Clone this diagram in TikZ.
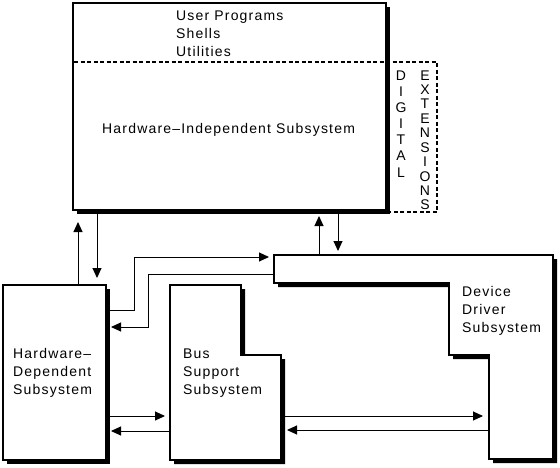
\documentclass[tikz,border=0pt]{standalone}
\usepackage{fontspec}
\usetikzlibrary{arrows.meta}
\newfontfamily\lab{Liberation Sans}[LetterSpace=8.5]
\tikzset{
  txt/.style={inner sep=0pt, anchor=base west, font=\lab\fontsize{14}{18}\selectfont},
  ltr/.style={inner sep=0pt, anchor=base, font=\lab\fontsize{14}{18}\selectfont},
  shadowfill/.style={fill=black, draw=none},
  boxline/.style={fill=white, draw=black, line width=1.6pt, line join=miter},
  conn/.style={draw=black, line width=1pt, -{Triangle[length=10pt,width=9pt]}},
  dashline/.style={draw=black, line width=1.5pt, dash pattern=on 4pt off 2.5pt}
}
\begin{document}
\begin{tikzpicture}[x=1pt, y=-1pt]
\useasboundingbox[fill=white] (0,0) rectangle (560,467);

% ---- top box (Hardware-Independent)
\fill[shadowfill] (77,7) rectangle (390,214);
\draw[boxline, line width=2pt] (73,3) rectangle (386,210);
\draw[dashline] (74,62) -- (437,62) -- (437,212) -- (390,212);

\node[txt] (up) at (176,20) {User Programs};
\node[txt] (sh) at (176,38) {Shells};
\node[txt] (ut) at (176,56) {Utilities};
\node[txt] (hi) at (102,133) {Hardware–Independent Subsystem};

% DIGITAL
\foreach \c [count=\i from 0] in {D,I,G,I,T,A,L}
  \node[ltr] (dg\i) at (401,80+16.17*\i) {\c};
% EXTENSIONS
\foreach \c [count=\i from 0] in {E,X,T,E,N,S,I,O,N,S}
  \node[ltr] (ex\i) at (425,80+14.44*\i) {\c};

% ---- Hardware-Dependent box
\fill[shadowfill] (7,289) rectangle (110,464);
\draw[boxline] (3,285) rectangle (106,460);
\node[txt] (hd1) at (13,358) {Hardware–};
\node[txt] (hd2) at (13,376) {Dependent};
\node[txt] (hd3) at (13,394) {Subsystem};

% ---- Bus Support box
\fill[shadowfill] (174,289) -- (245,289) -- (245,359) -- (285,359) -- (285,464) -- (174,464) -- cycle;
\draw[boxline] (170,285) -- (241,285) -- (241,355) -- (281,355) -- (281,460) -- (170,460) -- cycle;
\node[txt] (bs1) at (183,358) {Bus};
\node[txt] (bs2) at (183,376) {Support};
\node[txt] (bs3) at (183,394) {Subsystem};

% ---- Device Driver box
\fill[shadowfill] (278,259) -- (557,259) -- (557,463) -- (493,463) -- (493,359) -- (453,359) -- (453,287) -- (278,287) -- cycle;
\draw[boxline] (274,255) -- (553,255) -- (553,459) -- (489,459) -- (489,355) -- (449,355) -- (449,283) -- (274,283) -- cycle;
\node[txt] (dd1) at (462,296) {Device};
\node[txt] (dd2) at (462,314) {Driver};
\node[txt] (dd3) at (462,332) {Subsystem};

% ---- connector end points
\coordinate (hdUpS) at (78,285);   \coordinate (hdUpT) at (78,222);
\coordinate (hdDnS) at (97,214);   \coordinate (hdDnT) at (97,278);
\coordinate (ddUpS) at (319,255);  \coordinate (ddUpT) at (319,216);
\coordinate (ddDnS) at (338,214);  \coordinate (ddDnT) at (338,251);
\coordinate (hdR1) at (110,310);   \coordinate (ddL1) at (269,257);
\coordinate (ddL2) at (274,274);   \coordinate (hdR2) at (111,327);
\coordinate (hdR3) at (110,416);   \coordinate (bsL3) at (165,416);
\coordinate (bsL4) at (170,431);   \coordinate (hdR4) at (111,431);
\coordinate (bsR5) at (285,416);   \coordinate (ddL5) at (483,416);
\coordinate (ddL6) at (489,430);   \coordinate (bsR6) at (287,430);

\draw[conn] (hdUpS) -- (hdUpT);
\draw[conn] (hdDnS) -- (hdDnT);
\draw[conn] (ddUpS) -- (ddUpT);
\draw[conn] (ddDnS) -- (ddDnT);
\draw[conn] (hdR1) -- (134,310) -- (134,257) -- (ddL1);
\draw[conn] (ddL2) -- (148,274) -- (148,327) -- (hdR2);
\draw[conn] (hdR3) -- (bsL3);
\draw[conn] (bsL4) -- (hdR4);
\draw[conn] (bsR5) -- (ddL5);
\draw[conn] (ddL6) -- (bsR6);
\end{tikzpicture}
\end{document}
